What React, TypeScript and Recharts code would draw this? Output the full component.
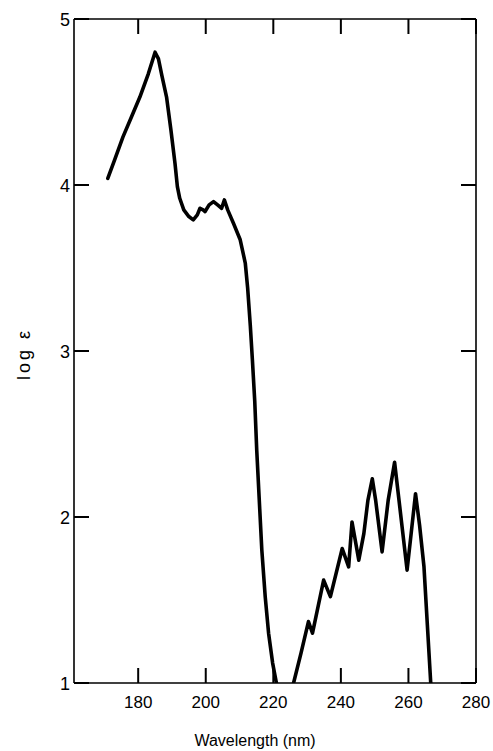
import { LineChart, Line, XAxis, YAxis } from "recharts";

// absorption spectrum
const wavelength = [
  171, 173, 175.5, 178, 180.5, 183, 185, 186, 187, 188.4, 189.7, 190.9, 191.6, 192.3,
  193.5, 195, 196.3, 197.5, 198.3, 199.2, 199.8, 201, 202.3, 203.5, 204.7, 205.5, 206.5,
  208.2, 210.2, 211.7, 212.4, 213.2, 213.8, 214.5, 215.1, 216.6, 217.6, 218.6, 219.8,
  221.1, 223.3, 226, 228.2, 230.4, 231.6, 234.9, 236.9, 240.4, 242.3, 243.3, 245.3,
  246.8, 248, 249.3, 250.3, 252.2, 254, 255.9, 257.5, 259.6, 260.8, 262.1, 263.3,
  264.6, 265.6, 266.6, 266.9,
];
const logEps = [
  4.04, 4.15, 4.29, 4.41, 4.53, 4.67, 4.8, 4.76, 4.66, 4.53, 4.33, 4.13, 3.99, 3.92,
  3.85, 3.81, 3.79, 3.82, 3.86, 3.85, 3.84, 3.88, 3.9, 3.88, 3.86, 3.91, 3.85,
  3.77, 3.67, 3.53, 3.38, 3.15, 2.95, 2.7, 2.4, 1.8, 1.52, 1.3, 1.12,
  0.98, 0.75, 1.0, 1.18, 1.37, 1.3, 1.62, 1.52, 1.81, 1.7, 1.97, 1.74,
  1.9, 2.1, 2.23, 2.1, 1.79, 2.1, 2.33, 2.05, 1.68, 1.9, 2.14, 1.95,
  1.7, 1.35, 1.0, 0.92,
];
const xTicks = [180, 200, 220, 240, 260, 280];
const yTicks = [1, 2, 3, 4, 5];

const data = wavelength.map((nm, i) => ({ nm, logE: logEps[i] }));

const FONT = '"Liberation Sans", Arial, Helvetica, sans-serif';
const TICK = 15;

const BottomTick = (props: any) => {
  const { x, y, payload } = props;
  return (
    <g>
      <line x1={x} y1={y} x2={x} y2={y - TICK} stroke="#000" strokeWidth={2} />
      <text x={x} y={y + 25} textAnchor="middle" fontSize={17} fontFamily={FONT} fill="#000">
        {payload.value}
      </text>
    </g>
  );
};

const TopTick = (props: any) => {
  const { x, y } = props;
  return <line x1={x} y1={y} x2={x} y2={y + TICK} stroke="#000" strokeWidth={2} />;
};

const LeftTick = (props: any) => {
  const { x, y, payload } = props;
  return (
    <g>
      <line x1={x} y1={y} x2={x + TICK} y2={y} stroke="#000" strokeWidth={2} />
      <text x={x - 4} y={y + 7} textAnchor="end" fontSize={18} fontFamily={FONT} fill="#000">
        {payload.value}
      </text>
    </g>
  );
};

const RightTick = (props: any) => {
  const { x, y } = props;
  return <line x1={x} y1={y} x2={x - TICK} y2={y} stroke="#000" strokeWidth={2} />;
};

const YTitle = ({ viewBox }: any) => {
  const cx = viewBox.x + 10;
  const cy = viewBox.y + viewBox.height / 2 + 3;
  return (
    <text
      x={cx}
      y={cy}
      transform={`rotate(-90 ${cx} ${cy})`}
      textAnchor="middle"
      dominantBaseline="central"
      fontSize={18}
      letterSpacing={3}
      fontFamily={FONT}
      fill="#000"
    >
      log ε
    </text>
  );
};

const axisLine = { stroke: "#000", strokeWidth: 1.6 };

export default function App() {
  return (
    <div style={{ background: "#fff" }}>
      <style>{`body{margin:0}`}</style>
      <LineChart
        width={493}
        height={751}
        data={data}
        margin={{ top: 14, right: 7, bottom: 0, left: 14 }}
      >
        <XAxis
          xAxisId="b"
          dataKey="nm"
          type="number"
          domain={[161, 280]}
          ticks={xTicks}
          orientation="bottom"
          height={68}
          tickSize={0}
          tickMargin={0}
          tickLine={false}
          tick={<BottomTick />}
          axisLine={axisLine}
          label={{
            value: "Wavelength (nm)",
            position: "insideBottom",
            offset: 5,
            dx: -20,
            style: { fontSize: 16, fill: "#000", fontFamily: FONT },
          }}
        />
        <XAxis
          xAxisId="t"
          dataKey="nm"
          type="number"
          domain={[161, 280]}
          ticks={xTicks}
          orientation="top"
          height={5}
          tickSize={0}
          tickMargin={0}
          tickLine={false}
          tick={<TopTick />}
          axisLine={axisLine}
        />
        <YAxis
          yAxisId="l"
          type="number"
          domain={[1, 5]}
          ticks={yTicks}
          allowDataOverflow
          width={60}
          tickSize={0}
          tickMargin={0}
          tickLine={false}
          tick={<LeftTick />}
          axisLine={axisLine}
          label={<YTitle />}
        />
        <YAxis
          yAxisId="r"
          orientation="right"
          type="number"
          domain={[1, 5]}
          ticks={yTicks}
          allowDataOverflow
          width={10}
          tickSize={0}
          tickMargin={0}
          tickLine={false}
          tick={<RightTick />}
          axisLine={axisLine}
        />
        <Line
          xAxisId="b"
          yAxisId="l"
          dataKey="logE"
          type="linear"
          stroke="#000"
          strokeWidth={3.6}
          strokeLinejoin="round"
          strokeLinecap="round"
          dot={false}
          isAnimationActive={false}
        />
      </LineChart>
    </div>
  );
}
